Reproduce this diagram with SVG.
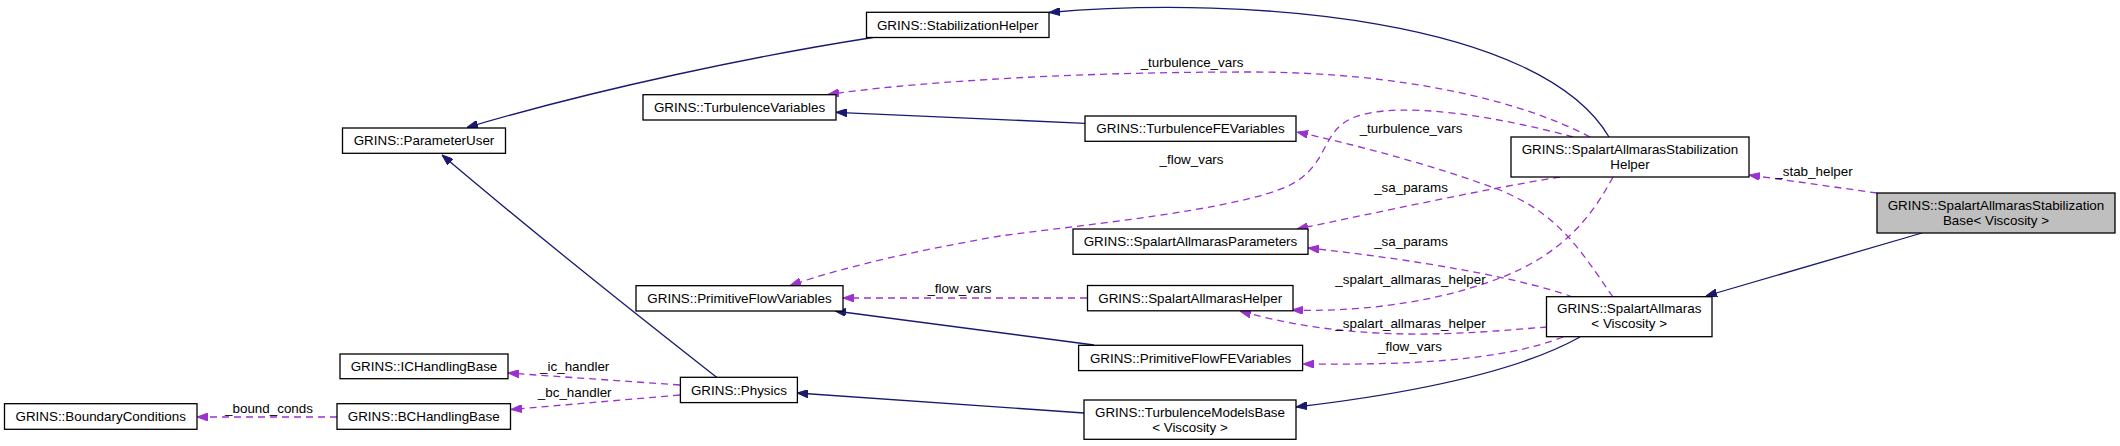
<svg xmlns="http://www.w3.org/2000/svg" width="2120" height="446" viewBox="0 0 2120 446">
<defs>
<style>
.node rect{fill:#ffffff;stroke:#000000;stroke-width:1.3}
.node rect.focus{fill:#bfbfbf}
.node text,.lbl{font-family:"Liberation Sans",Arial,Helvetica,sans-serif;font-size:13.4px;fill:#000000;text-anchor:middle}
.inh{fill:none;stroke:#191970;stroke-width:1.3}
.use{fill:none;stroke:#9a32cd;stroke-width:1.3;stroke-dasharray:7,5}
</style>
<marker id="ai" viewBox="0 0 11 8" refX="11" refY="4" markerWidth="11" markerHeight="8" orient="auto" markerUnits="userSpaceOnUse"><path d="M0,0 L11,4 L0,8 z" fill="#191970" stroke="#191970" stroke-width="1"/></marker>
<marker id="au" viewBox="0 0 11 8" refX="11" refY="4" markerWidth="11" markerHeight="8" orient="auto" markerUnits="userSpaceOnUse"><path d="M0,0 L11,4 L0,8 z" fill="#9a32cd" stroke="#9a32cd" stroke-width="1"/></marker>
</defs>
<rect width="2120" height="446" fill="#ffffff"/>
<g id="connectors">
<path class="inh" marker-end="url(#ai)" d="M873,37.5 C760,55 600,88 467,127.5"/>
<path class="inh" marker-end="url(#ai)" d="M1609,137 C1540,20 1250,-5 1049,12.5"/>
<path class="use" marker-end="url(#au)" d="M1590,137 C1520,100 1400,72 1250,72 C1050,72 900,84 828,94.5"/>
<text class="lbl" x="1192" y="67">_turbulence_vars</text>
<path class="inh" marker-end="url(#ai)" d="M1085,123.3 L836,112.3"/>
<path class="use" marker-end="url(#au)" d="M1613,297 C1580,250 1560,215 1500,190 C1440,168 1370,148 1297,132"/>
<text class="lbl" x="1411" y="133">_turbulence_vars</text>
<path class="use" marker-end="url(#au)" d="M1573,137 C1500,117 1400,100 1355,117 C1320,130 1330,165 1290,185 C1240,210 1080,225 1000,236 C920,250 850,265 790,285.5"/>
<text class="lbl" x="1191.5" y="164">_flow_vars</text>
<path class="use" marker-end="url(#au)" d="M1560,177 C1480,190 1380,212 1297,229"/>
<text class="lbl" x="1411" y="192">_sa_params</text>
<path class="use" marker-end="url(#au)" d="M1573,297 C1520,278 1420,260 1308,248"/>
<text class="lbl" x="1411" y="246">_sa_params</text>
<path class="use" marker-end="url(#au)" d="M1613,177 C1590,220 1560,255 1500,278 C1430,305 1350,312 1292,310"/>
<text class="lbl" x="1410.5" y="284">_spalart_allmaras_helper</text>
<path class="use" marker-end="url(#au)" d="M1547,327 C1470,333 1360,345 1240,311"/>
<text class="lbl" x="1410.5" y="328">_spalart_allmaras_helper</text>
<path class="use" marker-end="url(#au)" d="M1563,337 C1500,362 1400,365 1303,364"/>
<text class="lbl" x="1410" y="351">_flow_vars</text>
<path class="inh" marker-end="url(#ai)" d="M1580,337 C1530,365 1440,390 1296,407"/>
<path class="inh" marker-end="url(#ai)" d="M1922,233 L1706,296"/>
<path class="use" marker-end="url(#au)" d="M1877,193 L1749,175"/>
<text class="lbl" x="1814" y="176">_stab_helper</text>
<path class="inh" marker-end="url(#ai)" d="M1084,413 L797,393"/>
<path class="inh" marker-end="url(#ai)" d="M1094,345 L835,311"/>
<path class="inh" marker-end="url(#ai)" d="M717,377.5 C650,325 560,255 442,155"/>
<path class="use" marker-end="url(#au)" d="M680,385 L508,373"/>
<text class="lbl" x="574.7" y="370.5">_ic_handler</text>
<path class="use" marker-end="url(#au)" d="M680,395 L511,409.5"/>
<text class="lbl" x="574.7" y="397.3">_bc_handler</text>
<path class="use" marker-end="url(#au)" d="M337,417 L197,417"/>
<text class="lbl" x="269" y="412.5">_bound_conds</text>
<path class="use" marker-end="url(#au)" d="M1087,298 L843,298"/>
<text class="lbl" x="959.4" y="293.3">_flow_vars</text>
</g>
<g id="node-target" class="node"><rect class="focus" x="1877" y="193" width="238" height="40"/><text x="1996" y="209.7">GRINS::SpalartAllmarasStabilization</text><text x="1996" y="224.7">Base&lt; Viscosity &gt;</text></g>
<g id="node-sastabhelper" class="node"><rect x="1511" y="137" width="238" height="40"/><text x="1630" y="153.7">GRINS::SpalartAllmarasStabilization</text><text x="1630" y="168.7">Helper</text></g>
<g id="node-stabhelper" class="node"><rect x="866.5" y="12.3" width="182.5" height="25.2"/><text x="957.7" y="29.5">GRINS::StabilizationHelper</text></g>
<g id="node-parameteruser" class="node"><rect x="342.5" y="128" width="163" height="25.3"/><text x="424" y="145.2">GRINS::ParameterUser</text></g>
<g id="node-turbvars" class="node"><rect x="643" y="94.7" width="193" height="25.3"/><text x="739.5" y="111.9">GRINS::TurbulenceVariables</text></g>
<g id="node-turbfevars" class="node"><rect x="1085" y="116" width="211" height="25.3"/><text x="1190.5" y="133.2">GRINS::TurbulenceFEVariables</text></g>
<g id="node-saparams" class="node"><rect x="1073" y="229" width="235" height="25.3"/><text x="1190.5" y="246.2">GRINS::SpalartAllmarasParameters</text></g>
<g id="node-pfv" class="node"><rect x="636" y="285.7" width="207" height="25.3"/><text x="739.5" y="302.9">GRINS::PrimitiveFlowVariables</text></g>
<g id="node-sahelper" class="node"><rect x="1087.5" y="285.5" width="205.5" height="25.3"/><text x="1190.2" y="302.7">GRINS::SpalartAllmarasHelper</text></g>
<g id="node-pffev" class="node"><rect x="1078.6" y="345.3" width="224" height="25.3"/><text x="1190.6" y="362.5">GRINS::PrimitiveFlowFEVariables</text></g>
<g id="node-sa" class="node"><rect x="1546.5" y="296.7" width="165.5" height="40"/><text x="1629.2" y="313.4">GRINS::SpalartAllmaras</text><text x="1629.2" y="328.4">&lt; Viscosity &gt;</text></g>
<g id="node-tmb" class="node"><rect x="1084" y="400" width="212" height="39.3"/><text x="1190" y="416.7">GRINS::TurbulenceModelsBase</text><text x="1190" y="431.7">&lt; Viscosity &gt;</text></g>
<g id="node-physics" class="node"><rect x="680.4" y="377.3" width="117" height="25.3"/><text x="738.9" y="394.5">GRINS::Physics</text></g>
<g id="node-ichandling" class="node"><rect x="340" y="354" width="168" height="24.7"/><text x="424" y="370.9">GRINS::ICHandlingBase</text></g>
<g id="node-bchandling" class="node"><rect x="337" y="403.7" width="173.5" height="25.6"/><text x="423.7" y="420.9">GRINS::BCHandlingBase</text></g>
<g id="node-boundary" class="node"><rect x="4.5" y="403.7" width="192.5" height="25.6"/><text x="100.7" y="420.9">GRINS::BoundaryConditions</text></g>
</svg>
